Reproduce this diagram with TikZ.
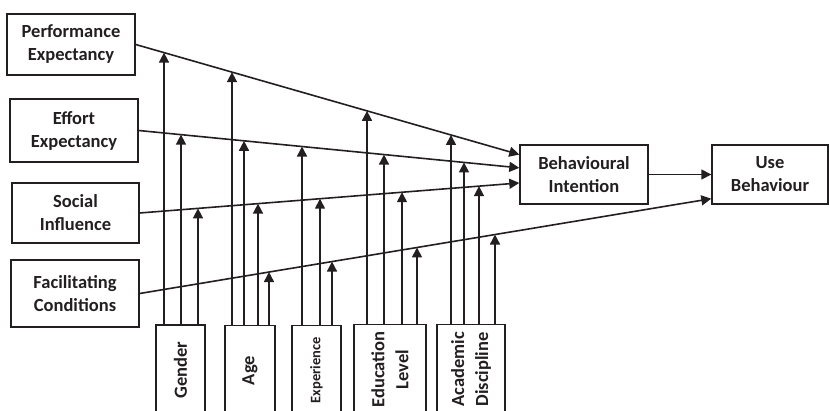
\documentclass[tikz,border=0pt]{standalone}
\usepackage{fontspec}
\setmainfont{Carlito}
\usetikzlibrary{arrows.meta,calc,intersections}
\definecolor{ink}{RGB}{35,31,32}
\begin{document}
\begin{tikzpicture}[x=1pt,y=-1pt,
  box/.style={draw=ink, line width=1.4pt, minimum width=128pt, inner sep=2pt,
    align=center, font=\fontsize{18.5}{23}\selectfont\bfseries, text=ink},
  vbox/.style={draw=ink, line width=1.4pt, minimum height=90pt, inner sep=0pt},
  vtext/.style={rotate=90, align=center, inner sep=0pt,
    font=\fontsize{18.5}{24}\selectfont\bfseries, text=ink},
  conn/.style={draw=ink, line width=1.6pt, -{Triangle[width=10pt,length=10pt]}}
]
\clip (0,0) rectangle (830,411);
\useasboundingbox (0,0) rectangle (830,411);

% left constructs
\node[box, minimum height=61pt] (pe) at (71,44.5) {Performance\\Expectancy};
\node[box, minimum height=63pt] (ee) at (74,130.5) {Effort\\Expectancy};
\node[box, minimum height=60pt, minimum width=127pt] (si) at (75.5,213) {Social\\Influence};
\node[box, minimum height=67pt] (fc) at (75,293.5) {Facilitating\\Conditions};

% right constructs
\node[box, minimum height=59pt] (bi) at (584,174.5) {Behavioural\\Intention};
\node[box, minimum height=59pt, minimum width=116pt] (ub) at (770,174.5) {Use\\Behaviour};

% moderators
\node[vbox, minimum width=49pt] (gen) at (180.5,370) {};
\node[vtext] (gent) at (gen.center) {Gender};
\node[vbox, minimum width=50pt] (age) at (250,370.5) {};
\node[vtext] (aget) at (age.center) {Age};
\node[vbox, minimum width=49pt] (exp) at (316.5,370.5) {};
\node[vtext, font=\fontsize{14.5}{17}\selectfont\bfseries] (expt) at (exp.center) {Experience};
\node[vbox, minimum width=72pt] (edu) at (390,369.5) {};
\node[vtext] (edut) at (edu.center) {Education\\Level};
\node[vbox, minimum width=68pt] (aca) at (471,369.5) {};
\node[vtext] (acat) at (aca.center) {Academic\\Discipline};

% main paths
\draw[conn, name path=lpe] (pe.east) -- ($(bi.north west)!0.17!(bi.south west)$);
\draw[conn, name path=lee] (ee.east) -- ($(bi.north west)!0.39!(bi.south west)$);
\draw[conn, name path=lsi] (si.east) -- ($(bi.north west)!0.64!(bi.south west)$);
\draw[conn, name path=lfc] (fc.east) -- ($(ub.north west)!0.9!(ub.south west)$);
\draw[conn] (bi.east) -- (bi.east -| ub.west);

% moderating arrows
\foreach \xx/\src/\tgt in {164/gen/lpe, 181/gen/lee, 198/gen/lsi,
    232/age/lpe, 244/age/lee, 258/age/lsi, 269/age/lfc,
    302/exp/lee, 320/exp/lsi, 332/exp/lfc,
    367/edu/lpe, 384/edu/lee, 402/edu/lsi, 417/edu/lfc,
    451/aca/lpe, 464/aca/lee, 479/aca/lsi, 495/aca/lfc} {
  \path[name path=vline] (\xx,0) -- (\xx,411);
  \draw[conn, name intersections={of=vline and \tgt, by=hit}] (hit |- \src.north) -- (hit);
}
\end{tikzpicture}
\end{document}
